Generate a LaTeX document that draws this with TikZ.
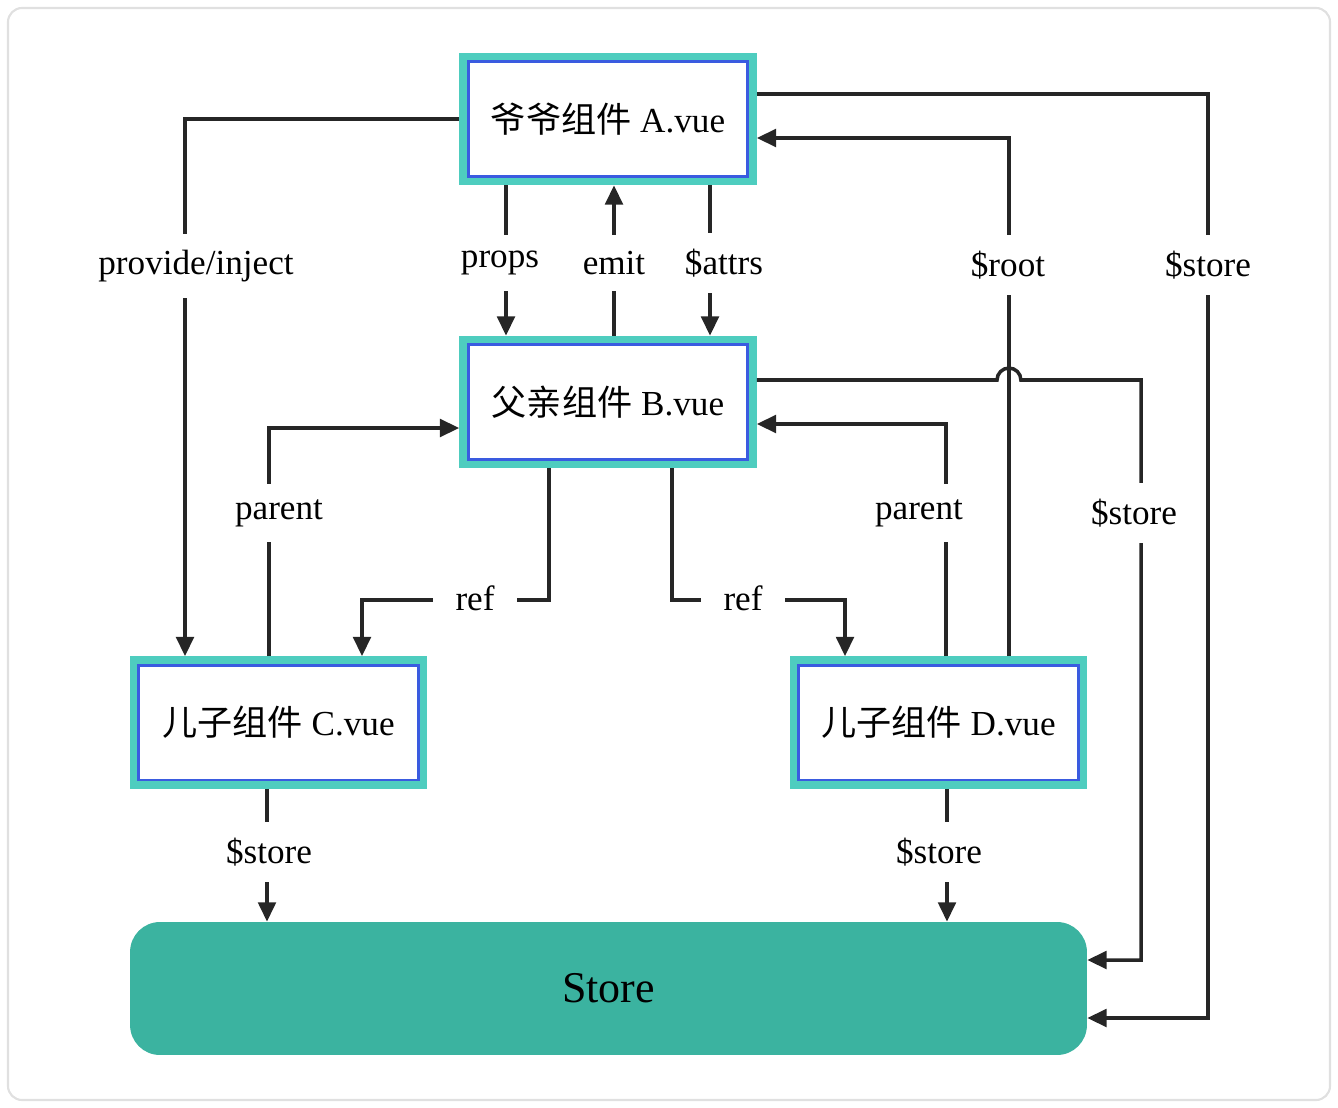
\documentclass[tikz,border=0pt]{standalone}
\usepackage{fontspec}
\setmainfont{Liberation Serif}
\newfontfamily\cjk{Noto Sans CJK SC}
\usetikzlibrary{arrows.meta}

\definecolor{boxteal}{HTML}{4ECDBF}
\definecolor{boxblue}{HTML}{3A5BE0}
\definecolor{storeteal}{HTML}{3BB3A0}
\definecolor{linegray}{HTML}{262626}

\tikzset{
  box/.style={draw=boxblue, line width=1.7pt, fill=white,
    minimum width=5.6cm, minimum height=2.3cm, outer sep=5pt,
    preaction={draw=boxteal, line width=10pt},
    font=\fontsize{20}{24}\selectfont},
  conn/.style={draw=linegray, line width=2pt, -{Triangle[length=11pt,width=10pt]}},
  lbl/.style={fill=white, inner xsep=10pt, inner ysep=9pt, text=black,
    font=\fontsize{20}{24}\selectfont}
}

\begin{document}
\begin{tikzpicture}[x=0.02cm, y=-0.02cm]
        \useasboundingbox (0,0) rectangle (1338,1108);
        \draw[black!12, line width=1.2pt, rounded corners=8pt] (8,8) rectangle (1330,1100);

        % components
        \node[box] (a) at (608,119) {{\cjk 爷爷组件} A.vue};
        \node[box] (b) at (608,402) {{\cjk 父亲组件} B.vue};
        \node[box] (c) at (278.5,722.5) {{\cjk 儿子组件} C.vue};
        \node[box] (d) at (938.5,722.5) {{\cjk 儿子组件} D.vue};
        \node[fill=storeteal, rounded corners=17pt, minimum width=19.14cm,
          minimum height=2.66cm, font=\fontsize{25}{30}\selectfont] (store) at (608.5,988.5) {Store};

        % A -> C
        \draw[conn] (a.west) -| (c.north -| 185,0);

        % A <-> B
        \draw[conn] (a.south -| 506,0) -- (b.north -| 506,0);
        \draw[conn] (b.north -| 614,0) -- (a.south -| 614,0);
        \draw[conn] (a.south -| 710,0) -- (b.north -| 710,0);

        % $root
        \draw[conn] (d.north -| 1009,0) |- (a.east |- 0,138);

        % $store from A and B
        \draw[conn] (a.east |- 0,94) -| (1208,1018) -- (store.east |- 0,1018);
        \draw[conn] (b.east |- 0,380) -- (997,380) arc[start angle=180, end angle=0, radius=6.8pt]
          -| (1141,960) -- (store.east |- 0,960);

        % parent
        \draw[conn] (c.north -| 269,0) |- (b.west |- 0,428);
        \draw[conn] (d.north -| 946,0) |- (b.east |- 0,424);

        % ref
        \draw[conn] (b.south -| 549,0) |- (362,600) -- (c.north -| 362,0);
        \draw[conn] (b.south -| 672,0) |- (845,600) -- (d.north -| 845,0);

        % $store from C and D
        \draw[conn] (c.south -| 267,0) -- (store.north -| 267,0);
        \draw[conn] (d.south -| 947,0) -- (store.north -| 947,0);

        % labels
        \node[lbl] (lprov) at (196,266) {provide/inject};
        \node[lbl] (lprops) at (500,263) {props};
        \node[lbl, inner xsep=3pt] (lemit) at (614,263) {emit};
        \node[lbl, inner xsep=3pt] (lattrs) at (724,263) {\$attrs};
        \node[lbl] (lroot) at (1008,265) {\$root};
        \node[lbl] (lstorea) at (1208,265) {\$store};
        \node[lbl] (lparc) at (279,513) {parent};
        \node[lbl] (lpard) at (919,513) {parent};
        \node[lbl] (lstoreb) at (1134,513) {\$store};
        \node[lbl, inner xsep=13pt] (lrefc) at (475,598) {ref};
        \node[lbl, inner xsep=13pt] (lrefd) at (743,598) {ref};
        \node[lbl] (lstorec) at (269,852) {\$store};
        \node[lbl] (lstored) at (939,852) {\$store};
      \end{tikzpicture}
\end{document}
